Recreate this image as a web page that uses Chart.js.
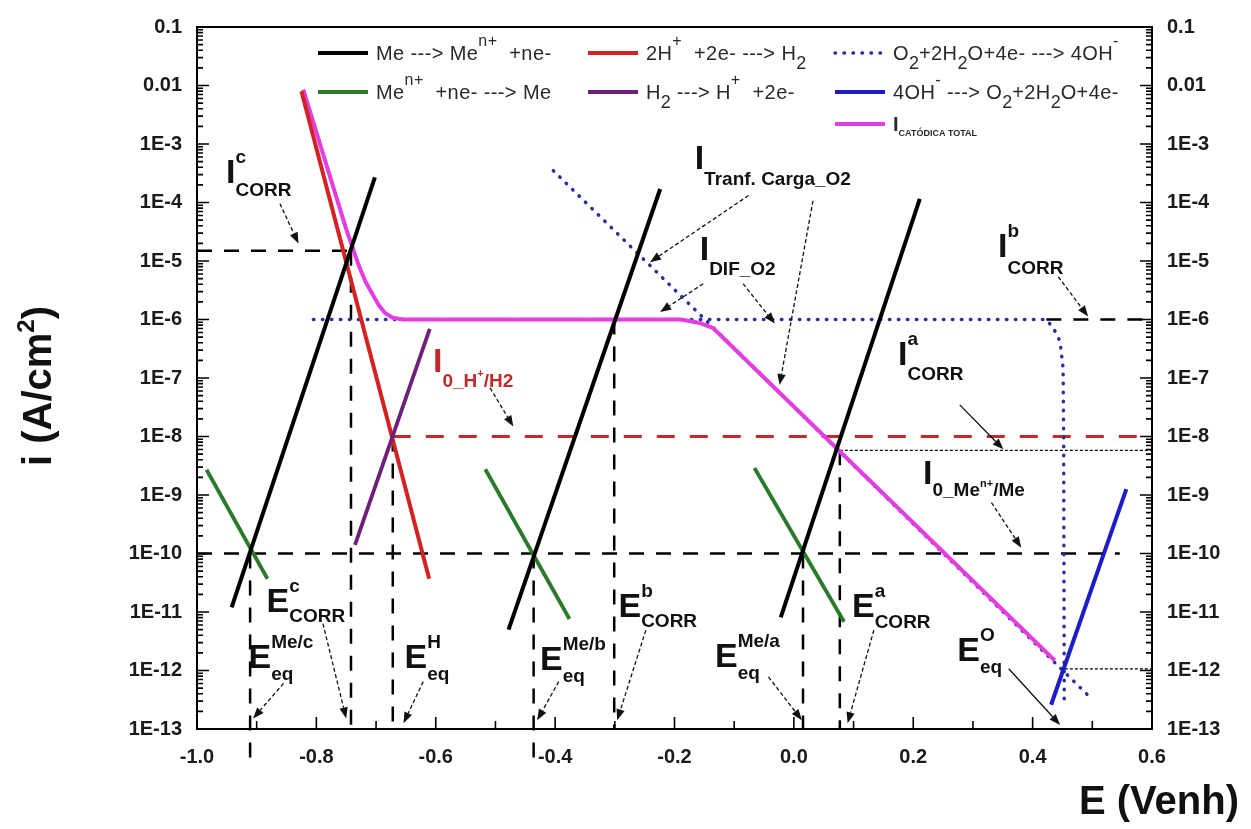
<!DOCTYPE html>
<html>
<head>
<meta charset="utf-8">
<title>Diagrama de Evans</title>
<script src="https://cdn.jsdelivr.net/npm/chart.js@4.4.0/dist/chart.umd.min.js"></script>
<style>
  html, body { margin: 0; padding: 0; background: #fff; }
  #wrap { width: 1251px; height: 829px; }
</style>
</head>
<body>
<div id="wrap"><canvas id="evans" width="1251" height="829"></canvas></div>
<script>
// ---------------- axes ----------------
const E_MIN = -1.0, E_MAX = 0.6;          // potential, V (NHE)
const I_MIN = 1e-13, I_MAX = 0.1;         // current density, A/cm²
const xTickLabels = ['-1.0', '-0.8', '-0.6', '-0.4', '-0.2', '0.0', '0.2', '0.4', '0.6'];
const yTickLabels = ['1E-13', '1E-12', '1E-11', '1E-10', '1E-9', '1E-8', '1E-7',
                     '1E-6', '1E-5', '1E-4', '1E-3', '0.01', '0.1'];

// ---------------- Tafel lines (E in V, i in A/cm²) ----------------
// metal oxidation  Me ---> Me(n+) + ne-   (metals c, b, a)
const meOxC_E = [-0.942, -0.702], meOxC_i = [1.2e-11, 2.7e-4];
const meOxB_E = [-0.478, -0.224], meOxB_i = [5.0e-12, 1.7e-4];
const meOxA_E = [-0.022, 0.211],  meOxA_i = [8.1e-12, 1.15e-4];
// metal ion reduction  Me(n+) + ne- ---> Me
const meRedC_E = [-0.984, -0.882], meRedC_i = [2.7e-9, 3.7e-11];
const meRedB_E = [-0.517, -0.376], meRedB_i = [2.75e-9, 7.6e-12];
const meRedA_E = [-0.066, 0.084],  meRedA_i = [2.9e-9, 6.8e-12];
// hydrogen evolution / oxidation
const hRed_E = [-0.825, -0.611], hRed_i = [8.0e-3, 3.7e-11];
const hOx_E  = [-0.7353, -0.610], hOx_i  = [1.4e-10, 6.9e-7];
// oxygen reduction: charge-transfer branch and diffusion-limited branch
const o2Tafel_E = [-0.403, 0.500], o2Tafel_i = [3.5e-4, 3.2e-13];
const o2Lim_E = [-0.805, 0.423, 0.435, 0.446, 0.451, 0.452, 0.453];
const o2Lim_i = [1e-6, 1e-6, 7.1e-7, 4.2e-7, 1.5e-7, 1e-8, 2.6e-13];
// oxygen evolution  4OH- ---> O2 + 2H2O + 4e-
const o2Ox_E = [0.431, 0.557], o2Ox_i = [2.6e-13, 1.26e-9];
// total cathodic current
const catTot_E = [-0.822, -0.750, -0.741, -0.730, -0.718, -0.705, -0.695, -0.685, -0.672,
                  -0.655, -0.190, -0.157, -0.135, 0.437];
const catTot_i = [8.5e-3, 3.5e-5, 1.9e-5, 8.9e-6, 4.5e-6, 2.6e-6, 1.74e-6, 1.29e-6, 1.07e-6,
                  1.0e-6, 1.0e-6, 8.7e-7, 7.1e-7, 1.48e-12];

// ---------------- characteristic values ----------------
const E_eq_MeC = -0.911, E_corr_C = -0.742, E_eq_H = -0.672, E_eq_MeB = -0.436;
const E_corr_B = -0.301, E_eq_MeA = 0.0153, E_corr_A = 0.077, E_eq_O = 0.454;
const i_corr_C = 1.5e-5, i_corr_B = 1e-6, i0_H = 1e-8, i_corr_A = 5.8e-9;
const i0_Me = 1e-10, i0_O = 1.07e-12;

// ---------------- styling ----------------
const FONT = '"Liberation Sans", Arial, sans-serif';
const C_BLACK = '#000000', C_GREEN = '#2b7a2b', C_RED = '#d42222', C_PURPLE = '#6e1f78';
const C_MAGENTA = '#e23ee2', C_BLUE = '#1c1cc8', C_DOT = '#2d2d9e', C_REDDASH = '#c32a2a';

const pts = (E, I) => E.map((e, k) => ({ x: e, y: I[k] }));
function line(E, I, color, width, extra) {
  return Object.assign({
    data: pts(E, I), borderColor: color, borderWidth: width, pointRadius: 0,
    fill: false, tension: 0, borderCapStyle: 'butt', borderJoinStyle: 'round'
  }, extra || {});
}
const DASH = { borderDash: [15, 12], order: 20 };
const THIN = { borderDash: [3, 2], order: 20 };
const below = Math.pow(10, -13.49);

const datasets = [
  // guide lines (drawn first)
  line([E_MIN, E_corr_C], [i_corr_C, i_corr_C], C_BLACK, 2.5, DASH),
  line([0.423, E_MAX], [i_corr_B, i_corr_B], C_BLACK, 2.5, DASH),
  line([E_eq_H, E_MAX], [i0_H, i0_H], C_REDDASH, 3.2, { borderDash: [18, 15], order: 20 }),
  line([E_corr_A, E_MAX], [i_corr_A, i_corr_A], C_BLACK, 1.2, THIN),
  line([E_MIN, 0.546], [i0_Me, i0_Me], C_BLACK, 2.5, DASH),
  line([E_eq_O, E_MAX], [i0_O, i0_O], C_BLACK, 1.2, THIN),
  line([E_eq_MeC, E_eq_MeC], [i0_Me, below], C_BLACK, 2.5, Object.assign({ clip: false }, DASH)),
  line([E_corr_C, E_corr_C], [i_corr_C, I_MIN], C_BLACK, 2.5, DASH),
  line([E_eq_H, E_eq_H], [i0_H, I_MIN], C_BLACK, 2.5, DASH),
  line([E_eq_MeB, E_eq_MeB], [i0_Me, below], C_BLACK, 2.5, Object.assign({ clip: false }, DASH)),
  line([E_corr_B, E_corr_B], [i_corr_B, I_MIN], C_BLACK, 2.5, DASH),
  line([E_eq_MeA, E_eq_MeA], [i0_Me, I_MIN], C_BLACK, 2.5, DASH),
  line([E_corr_A, E_corr_A], [i_corr_A, I_MIN], C_BLACK, 2.5, DASH),
  // oxygen reduction (dotted)
  line(o2Tafel_E, o2Tafel_i, C_DOT, 3.5, { borderDash: [0.5, 8.5], borderCapStyle: 'round', order: 15 }),
  line(o2Lim_E, o2Lim_i, C_DOT, 3.5, { borderDash: [0.5, 8.5], borderCapStyle: 'round', order: 15 }),
  // total cathodic current
  line(catTot_E, catTot_i, C_MAGENTA, 4, { order: 10 }),
  // hydrogen
  line(hRed_E, hRed_i, C_RED, 4, { order: 8 }),
  line(hOx_E, hOx_i, C_PURPLE, 3.8, { order: 7 }),
  // oxygen evolution
  line(o2Ox_E, o2Ox_i, C_BLUE, 4, { order: 6 }),
  // metal reduction
  line(meRedC_E, meRedC_i, C_GREEN, 3.8, { order: 5 }),
  line(meRedB_E, meRedB_i, C_GREEN, 3.8, { order: 5 }),
  line(meRedA_E, meRedA_i, C_GREEN, 3.8, { order: 5 }),
  // metal oxidation
  line(meOxC_E, meOxC_i, C_BLACK, 4, { order: 1 }),
  line(meOxB_E, meOxB_i, C_BLACK, 4, { order: 1 }),
  line(meOxA_E, meOxA_i, C_BLACK, 4, { order: 1 })
];

// ---------------- rich text helpers ----------------
function put(ctx, x, y, p) {
  ctx.font = (p.b ? 'bold ' : '') + p.s + 'px ' + FONT;
  ctx.letterSpacing = p.ls || '0px';
  ctx.fillStyle = p.c || '#111';
  ctx.fillText(p.t, x + (p.dx || 0), y + (p.dy || 0));
  const w = ctx.measureText(p.t).width + (p.dx || 0);
  ctx.letterSpacing = '0px';
  return w;
}
function runs(ctx, x, y, parts) {
  let cx = x;
  for (const p of parts) {
    if (p.stack) {
      let w = 0;
      for (const q of p.stack) {
        let qx = cx;
        for (const r of q) qx += put(ctx, qx, y, r);
        w = Math.max(w, qx - cx);
      }
      cx += w;
    } else {
      cx += put(ctx, cx, y, p);
    }
  }
  return cx - x;
}
function measureRuns(ctx, parts) {
  let w = 0;
  for (const p of parts) {
    ctx.font = (p.b ? 'bold ' : '') + p.s + 'px ' + FONT;
    w += ctx.measureText(p.t).width;
  }
  return w;
}

// ---------------- annotations (E, log10 i of baseline) ----------------
const BIG = 34, SM = 19;
const sub = (t, drop, c) => ({ t, s: SM, b: true, dy: drop, c });
const sup = (t, c) => ({ t, s: SM, b: true, dy: -20, c });
const notes = [
  { E: -0.9514, L: -3.66, main: 'I', up: 'c', dn: [sub('CORR', 13)] },
  { E: -0.1662, L: -3.43, main: 'I', dn: [sub('Tranf. Carga_O2', 16)] },
  { E: -0.1578, L: -4.99, main: 'I', dn: [sub('DIF_O2', 15)] },
  { E: 0.342, L: -4.93, main: 'I', up: 'b', dn: [sub('CORR', 17)] },
  { E: 0.1744, L: -6.77, main: 'I', up: 'a', dn: [sub('CORR', 15)] },
  { E: 0.2164, L: -8.82, main: 'I', dn: [sub('0_Me', 12), { t: 'n+', s: 11, b: true, dy: 3 }, sub('/Me', 12)] },
  { E: -0.6046, L: -6.89, main: 'I', c: C_REDDASH,
    dn: [sub('0_H', 15, C_REDDASH), { t: '+', s: 11, b: true, dy: 5, c: C_REDDASH }, sub('/H2', 15, C_REDDASH)] },
  { E: -0.8836, L: -11.0, main: 'E', up: 'c', dn: [sub('CORR', 10)] },
  { E: -0.9137, L: -11.96, main: 'E', up: 'Me/c', dn: [sub('eq', 12)] },
  { E: -0.6524, L: -11.96, main: 'E', up: 'H', dn: [sub('eq', 12)] },
  { E: -0.4254, L: -11.99, main: 'E', up: 'Me/b', dn: [sub('eq', 12)] },
  { E: -0.2939, L: -11.09, main: 'E', up: 'b', dn: [sub('CORR', 10)] },
  { E: -0.1322, L: -11.94, main: 'E', up: 'Me/a', dn: [sub('eq', 12)] },
  { E: 0.0973, L: -11.09, main: 'E', up: 'a', dn: [sub('CORR', 11)] },
  { E: 0.2737, L: -11.83, main: 'E', up: 'O', dn: [sub('eq', 12)] }
];
// arrows: [E0, log i0, E1, log i1, dashed]
const arrows = [
  [-0.861, -4.02, -0.830, -4.70, true],
  [-0.076, -3.88, -0.241, -5.02, true],
  [0.032, -3.97, -0.024, -7.12, true],
  [-0.152, -5.39, -0.224, -5.87, true],
  [-0.085, -5.39, -0.032, -6.07, true],
  [0.443, -5.27, 0.493, -5.95, true],
  [0.278, -7.46, 0.351, -8.22, false],
  [0.331, -9.13, 0.381, -9.90, true],
  [-0.509, -7.17, -0.470, -7.83, true],
  [-0.789, -11.2, -0.750, -12.82, true],
  [-0.855, -12.22, -0.906, -12.82, true],
  [-0.621, -12.19, -0.654, -12.90, true],
  [-0.394, -12.19, -0.430, -12.85, true],
  [-0.248, -11.31, -0.296, -12.85, true],
  [-0.0425, -12.11, 0.0134, -12.85, true],
  [0.134, -11.31, 0.090, -12.90, true],
  [0.360, -11.97, 0.446, -12.93, false]
];

// ---------------- legend ----------------
const LT = 20, LS = 16, LC = '#2a2a2a', LSP = '0.4px';
const t = (s) => ({ t: s, s: LT, c: LC, ls: LSP });
const sp = (s) => ({ t: s, s: LS, c: LC, dy: -14, ls: LSP });
const sb = (s) => ({ t: s, s: 18, c: LC, dy: 9 });
const legendItems = [
  { x: 318, y: 53, color: C_BLACK, parts: [t('Me ---> Me'), sp('n+'), t('  +ne-')] },
  { x: 318, y: 92, color: C_GREEN, parts: [t('Me'), sp('n+'), t('  +ne- ---> Me')] },
  { x: 588, y: 53, color: C_RED, parts: [t('2H'), sp('+'), t('  +2e- ---> H'), sb('2')] },
  { x: 588, y: 92, color: C_PURPLE, parts: [t('H'), sb('2'), t(' ---> H'), sp('+'), t('  +2e-')] },
  { x: 835, y: 53, color: C_DOT, dotted: true,
    parts: [t('O'), sb('2'), t('+2H'), sb('2'), t('O+4e- ---> 4OH'), sp('-')] },
  { x: 835, y: 92, color: C_BLUE,
    parts: [t('4OH'), sp('-'), t(' ---> O'), sb('2'), t('+2H'), sb('2'), t('O+4e-')] },
  { x: 835, y: 124, color: C_MAGENTA,
    parts: [{ t: 'I', s: 20, b: true, c: LC }, { t: 'CATÓDICA TOTAL', s: 9, b: true, c: LC, dy: 5 }] }
];

// ---------------- decorations plugin ----------------
const decor = {
  id: 'decor',
  afterDraw(chart) {
    const { ctx, chartArea: a, scales } = chart;
    const X = (v) => scales.x.getPixelForValue(v);
    const YL = (l) => scales.y.getPixelForValue(Math.pow(10, l));
    ctx.save();
    ctx.textBaseline = 'alphabetic';

    // top frame line
    ctx.strokeStyle = '#000';
    ctx.lineWidth = 2;
    ctx.beginPath(); ctx.moveTo(a.left - 1, a.top); ctx.lineTo(a.right + 1, a.top); ctx.stroke();

    // inward ticks
    ctx.lineWidth = 1.6;
    ctx.beginPath();
    for (let k = 1; k < 16; k++) {
      const px = X(E_MIN + k / 10), len = k % 2 === 0 ? 12 : 8;
      ctx.moveTo(px, a.bottom); ctx.lineTo(px, a.bottom - len);
    }
    for (let e = -13; e <= -1; e++) {
      for (let m = 1; m <= 9; m++) {
        const v = m * Math.pow(10, e);
        if (v > I_MAX * 1.0001) break;
        const py = scales.y.getPixelForValue(v), len = m === 1 ? 12 : 6;
        ctx.moveTo(a.left, py); ctx.lineTo(a.left + len, py);
        ctx.moveTo(a.right, py); ctx.lineTo(a.right - len, py);
      }
    }
    ctx.stroke();

    // arrows
    for (const [e0, l0, e1, l1, dashed] of arrows) {
      const x0 = X(e0), y0 = YL(l0), x1 = X(e1), y1 = YL(l1);
      const ang = Math.atan2(y1 - y0, x1 - x0), hl = 11, hw = 4.2;
      const bx = x1 - hl * Math.cos(ang), by = y1 - hl * Math.sin(ang);
      ctx.strokeStyle = '#111'; ctx.lineWidth = 1.3;
      ctx.setLineDash(dashed ? [4, 2.5] : []);
      ctx.beginPath(); ctx.moveTo(x0, y0); ctx.lineTo(bx, by); ctx.stroke();
      ctx.setLineDash([]);
      ctx.fillStyle = '#111';
      ctx.beginPath();
      ctx.moveTo(x1, y1);
      ctx.lineTo(bx + hw * Math.sin(ang), by - hw * Math.cos(ang));
      ctx.lineTo(bx - hw * Math.sin(ang), by + hw * Math.cos(ang));
      ctx.closePath(); ctx.fill();
    }

    // text annotations
    for (const n of notes) {
      const col = n.c || '#111';
      const parts = [{ t: n.main, s: BIG, b: true, c: col }];
      const stack = [];
      if (n.up) stack.push([sup(n.up, col)]);
      if (n.dn) stack.push(n.dn.map((p) => Object.assign({}, p, { c: p.c || col })));
      parts.push({ stack });
      runs(ctx, X(n.E), YL(n.L), parts);
    }

    // legend
    for (const it of legendItems) {
      ctx.strokeStyle = it.color;
      ctx.lineWidth = it.dotted ? 3.5 : 4;
      ctx.lineCap = it.dotted ? 'round' : 'butt';
      ctx.setLineDash(it.dotted ? [0.5, 8.5] : []);
      ctx.beginPath(); ctx.moveTo(it.x, it.y); ctx.lineTo(it.x + 50, it.y); ctx.stroke();
      ctx.setLineDash([]); ctx.lineCap = 'butt';
      runs(ctx, it.x + 58, it.y + 7, it.parts);
    }

    // axis titles
    const yTitle = [{ t: 'i (A/cm', s: 40, b: true, c: '#111' }, { t: '2', s: 24, b: true, c: '#111', dy: -17 },
                    { t: ')', s: 40, b: true, c: '#111' }];
    const wy = measureRuns(ctx, yTitle);
    ctx.save();
    ctx.translate(51, 386);
    ctx.rotate(-Math.PI / 2);
    runs(ctx, -wy / 2, 0, yTitle);
    ctx.restore();
    const xTitle = [{ t: 'E (Venh)', s: 40, b: true, c: '#111' }];
    const wx = measureRuns(ctx, xTitle);
    runs(ctx, 1239 - wx, 814, xTitle);

    ctx.restore();
  }
};

// ---------------- chart ----------------
const tickFont = { family: FONT, size: 20, weight: 'bold' };
const yLabel = (v) => yTickLabels[Math.round(Math.log10(v)) + 13];
const decades = () => yTickLabels.map((_, k) => ({ value: Math.pow(10, k - 13) }));

new Chart(document.getElementById('evans'), {
  type: 'line',
  data: { datasets },
  options: {
    responsive: false,
    animation: false,
    devicePixelRatio: 1,
    events: [],
    layout: { padding: { top: 24, left: 0, right: 0, bottom: 0 } },
    plugins: { legend: { display: false }, tooltip: { enabled: false }, title: { display: false } },
    scales: {
      x: {
        type: 'linear', position: 'bottom', min: E_MIN, max: E_MAX,
        grid: { display: false, drawTicks: false },
        border: { display: true, color: '#000', width: 2 },
        ticks: {
          stepSize: 0.2, autoSkip: false, maxRotation: 0, padding: 16,
          font: tickFont, color: '#1a1a1a',
          callback: (v) => xTickLabels[Math.round((v - E_MIN) / 0.2)]
        },
        afterFit: (s) => { s.height = 100; }
      },
      y: {
        type: 'logarithmic', position: 'left', min: I_MIN, max: I_MAX,
        grid: { display: false, drawTicks: false },
        border: { display: true, color: '#000', width: 2 },
        ticks: { autoSkip: false, padding: 15, font: tickFont, color: '#1a1a1a', callback: yLabel },
        afterBuildTicks: (s) => { s.ticks = decades(); },
        afterFit: (s) => { s.width = 197; }
      },
      y2: {
        type: 'logarithmic', position: 'right', min: I_MIN, max: I_MAX,
        grid: { display: false, drawTicks: false },
        border: { display: true, color: '#000', width: 2 },
        ticks: { autoSkip: false, padding: 15, font: tickFont, color: '#1a1a1a', callback: yLabel },
        afterBuildTicks: (s) => { s.ticks = decades(); },
        afterFit: (s) => { s.width = 99; }
      }
    }
  },
  plugins: [decor]
});
</script>
</body>
</html>
